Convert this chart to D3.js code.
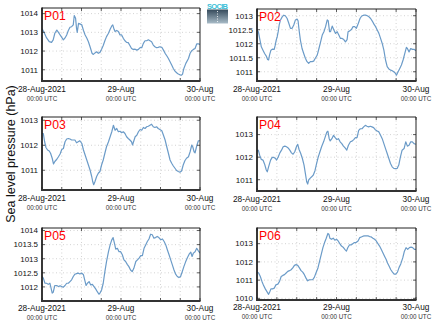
<!DOCTYPE html>
<html><head><meta charset="utf-8">
<script src="https://cdn.jsdelivr.net/npm/d3@7"></script>
<style>body{margin:0;background:#fff} svg{display:block}</style>
</head><body><svg id="c" width="434" height="327"></svg>
<script>
const panelNames = ["P01","P02","P03","P04","P05","P06"];
const dayLabels = ["28-Aug-2021","29-Aug","30-Aug"];
const timeLabel = "00:00 UTC";
const yLabel = "Sea level pressure (hPa)";
const logoText = "SOCIB";
const yTicks = [
  [1011,1012,1013,1014],
  [1011,1011.5,1012,1012.5,1013],
  [1011,1012,1013],
  [1011,1012,1013],
  [1012,1012.5,1013,1013.5,1014],
  [1010,1011,1012,1013]
];
// [hours since 28-Aug-2021 00:00 UTC, pressure hPa]
const p01 = [[0,1013.2],[0.6,1013.0],[1.4,1012.7],[2.2,1012.5],[2.9,1012.46],[3.4,1012.6],[3.9,1012.95],[4.5,1013.12],[5.0,1013.0],[5.5,1012.86],[6.5,1012.6],[7.0,1012.7],[7.5,1012.86],[8.0,1013.1],[8.5,1013.27],[9.0,1013.3],[9.5,1013.4],[9.8,1013.9],[10.2,1013.75],[10.5,1013.2],[10.7,1013.0],[11.1,1013.48],[11.5,1013.45],[12.1,1013.4],[12.6,1013.1],[13.1,1012.86],[13.6,1012.7],[14.1,1012.5],[14.6,1012.23],[15.2,1011.88],[15.6,1011.82],[16.1,1011.9],[16.6,1011.96],[17.1,1011.88],[17.6,1011.93],[18.1,1012.1],[18.6,1012.3],[19.1,1012.55],[19.6,1012.77],[20.2,1012.95],[20.7,1013.16],[21.2,1013.34],[21.5,1013.4],[21.9,1013.16],[22.2,1013.04],[22.7,1013.1],[23.2,1013.04],[23.7,1012.86],[24.2,1012.86],[24.7,1012.68],[25.2,1012.55],[25.7,1012.46],[26.2,1012.45],[26.7,1012.3],[27.2,1012.14],[27.7,1012.09],[28.3,1012.1],[28.8,1012.05],[29.3,1012.09],[29.8,1012.18],[30.3,1012.18],[30.8,1012.41],[31.3,1012.55],[31.8,1012.55],[32.3,1012.6],[32.8,1012.55],[33.3,1012.5],[33.8,1012.32],[34.3,1012.23],[34.8,1012.18],[35.3,1012.2],[35.8,1012.23],[36.4,1012.2],[36.9,1012.05],[37.4,1011.88],[37.9,1011.75],[38.4,1011.6],[38.9,1011.43],[39.4,1011.25],[39.9,1011.07],[40.4,1010.93],[40.9,1010.84],[41.4,1010.77],[41.9,1010.73],[42.4,1010.71],[42.7,1010.77],[43.1,1011.07],[43.7,1011.34],[44.5,1011.6],[45.0,1011.88],[45.5,1012.02],[46.0,1012.09],[46.5,1012.14],[47.0,1012.38],[47.5,1012.38],[48.0,1012.36]];
const p02 = [[0,1012.51],[0.4,1012.43],[0.8,1012.19],[1.3,1011.89],[1.8,1011.77],[2.3,1011.65],[2.8,1011.56],[3.2,1011.44],[3.5,1011.42],[3.8,1011.6],[4.2,1011.77],[4.7,1011.81],[5.2,1011.8],[5.5,1011.95],[5.8,1012.13],[6.1,1012.25],[6.4,1012.43],[6.7,1012.67],[7.1,1012.85],[7.6,1012.96],[8.1,1013.02],[8.6,1012.99],[9.1,1012.9],[9.6,1012.73],[10.1,1012.55],[10.6,1012.55],[11.1,1012.67],[11.6,1012.85],[12.1,1012.88],[12.4,1012.82],[12.7,1012.49],[13.1,1012.13],[13.6,1011.83],[14.1,1011.65],[14.6,1011.48],[15.1,1011.36],[15.6,1011.3],[16.1,1011.36],[16.6,1011.36],[17.1,1011.38],[17.6,1011.48],[18.2,1011.6],[18.7,1011.83],[19.2,1012.07],[19.7,1012.31],[20.2,1012.43],[20.7,1012.61],[21.2,1012.85],[21.5,1012.82],[21.9,1012.43],[22.2,1012.43],[22.7,1012.63],[23.2,1012.49],[23.7,1012.37],[24.2,1012.43],[24.7,1012.31],[25.2,1012.19],[25.7,1012.19],[26.2,1012.15],[26.7,1012.07],[27.2,1012.15],[27.5,1012.43],[28.0,1012.46],[28.5,1012.51],[29.0,1012.61],[29.5,1012.61],[30.0,1012.55],[30.6,1012.73],[31.1,1012.9],[31.6,1012.99],[32.3,1013.02],[32.8,1013.02],[33.3,1013.0],[33.8,1012.96],[34.3,1012.9],[34.8,1012.81],[35.3,1012.7],[35.8,1012.61],[36.3,1012.49],[36.8,1012.37],[37.3,1012.19],[37.8,1012.01],[38.3,1011.77],[38.8,1011.42],[39.3,1011.18],[39.8,1011.1],[40.3,1011.06],[40.8,1011.04],[41.3,1011.0],[41.8,1010.94],[42.1,1010.88],[42.6,1011.0],[43.1,1011.12],[43.6,1011.24],[44.1,1011.42],[44.6,1011.65],[45.1,1011.87],[45.4,1011.83],[45.9,1011.71],[46.4,1011.83],[46.9,1011.8],[47.4,1011.8],[48.0,1011.75]];
const p03 = [[0,1012.47],[0.4,1012.47],[0.8,1012.14],[1.2,1011.91],[1.7,1011.81],[2.2,1011.77],[2.6,1011.68],[3.1,1011.48],[3.5,1011.25],[3.9,1011.35],[4.5,1011.44],[5.0,1011.54],[5.5,1011.65],[6.0,1011.83],[6.5,1011.87],[7.0,1012.14],[7.5,1012.25],[8.0,1012.27],[8.5,1012.25],[9.0,1012.21],[9.5,1012.21],[10.0,1012.21],[10.5,1012.1],[11.0,1012.14],[11.5,1012.18],[12.1,1012.07],[12.6,1011.81],[13.1,1011.61],[13.6,1011.41],[14.1,1011.21],[14.6,1011.01],[15.1,1010.75],[15.4,1010.55],[15.7,1010.42],[16.1,1010.55],[16.6,1010.75],[17.1,1010.88],[17.6,1010.95],[18.1,1011.21],[18.6,1011.41],[19.1,1011.68],[19.6,1011.94],[20.2,1012.14],[20.7,1012.34],[21.2,1012.54],[21.7,1012.8],[22.2,1012.6],[22.7,1012.67],[23.2,1012.54],[23.7,1012.56],[24.2,1012.5],[24.7,1012.54],[25.2,1012.47],[25.7,1012.34],[26.2,1012.27],[26.7,1012.21],[27.2,1012.14],[27.5,1012.01],[28.3,1012.34],[28.8,1012.4],[29.3,1012.54],[29.8,1012.63],[30.3,1012.6],[30.8,1012.71],[31.3,1012.67],[31.8,1012.74],[32.3,1012.76],[32.8,1012.8],[33.3,1012.84],[33.8,1012.74],[34.3,1012.71],[34.8,1012.74],[35.3,1012.67],[35.8,1012.63],[36.4,1012.58],[36.9,1012.4],[37.4,1012.21],[37.9,1011.94],[38.4,1011.68],[38.9,1011.41],[39.4,1011.28],[39.9,1011.17],[40.4,1011.08],[40.9,1010.99],[41.4,1010.95],[41.9,1010.92],[42.4,1010.97],[42.9,1011.21],[43.4,1011.38],[43.9,1011.48],[44.5,1011.54],[45.0,1011.74],[45.5,1012.01],[45.8,1011.94],[46.2,1011.74],[46.5,1011.7],[47.0,1011.97],[47.5,1012.18],[48.0,1012.18]];
const p04 = [[0,1012.28],[0.4,1012.31],[0.8,1012.09],[1.3,1011.9],[1.8,1011.87],[2.3,1011.69],[2.8,1011.43],[3.1,1011.35],[3.5,1011.57],[4.1,1011.87],[4.6,1011.99],[5.1,1011.99],[5.6,1011.94],[5.9,1011.87],[6.4,1012.01],[6.9,1012.19],[7.4,1012.31],[7.9,1012.46],[8.4,1012.49],[8.9,1012.46],[9.4,1012.41],[9.9,1012.31],[10.4,1012.19],[10.9,1012.13],[11.4,1012.24],[11.9,1012.46],[12.3,1012.57],[12.7,1012.34],[13.2,1012.16],[13.7,1011.94],[14.2,1011.65],[14.6,1011.28],[15.0,1010.91],[15.3,1010.81],[15.6,1010.99],[16.0,1011.06],[16.5,1011.13],[17.0,1011.21],[17.5,1011.4],[18.0,1011.72],[18.5,1012.01],[19.0,1012.24],[19.5,1012.46],[20.1,1012.68],[20.6,1012.9],[21.1,1013.12],[21.4,1013.15],[21.8,1012.82],[22.1,1012.72],[22.6,1012.82],[23.1,1012.97],[23.6,1012.87],[24.1,1012.78],[24.6,1012.82],[25.1,1012.68],[25.6,1012.6],[26.1,1012.49],[26.6,1012.41],[27.1,1012.31],[27.6,1012.53],[28.2,1012.68],[28.7,1012.71],[29.2,1012.78],[29.7,1012.87],[30.2,1012.87],[30.7,1013.19],[31.2,1013.26],[31.7,1013.26],[32.2,1013.34],[32.7,1013.41],[33.2,1013.37],[33.7,1013.34],[34.2,1013.37],[34.7,1013.34],[35.2,1013.31],[35.7,1013.22],[36.3,1013.16],[36.8,1013.12],[37.3,1012.97],[37.8,1012.82],[38.3,1012.6],[38.8,1012.38],[39.3,1012.16],[39.8,1011.94],[40.3,1011.72],[40.8,1011.57],[41.3,1011.5],[41.8,1011.49],[42.3,1011.5],[42.8,1011.65],[43.3,1012.01],[43.8,1012.31],[44.4,1012.38],[44.9,1012.68],[45.4,1012.49],[45.9,1012.53],[46.4,1012.68],[46.9,1012.68],[47.4,1012.6],[48.0,1012.57]];
const p05 = [[0,1012.37],[0.4,1012.31],[0.9,1012.13],[1.4,1012.13],[1.9,1012.09],[2.4,1012.13],[2.7,1011.98],[3.1,1011.78],[3.4,1011.81],[3.9,1012.05],[4.5,1012.05],[5.0,1012.01],[5.5,1012.04],[6.0,1012.01],[6.5,1011.99],[7.0,1012.05],[7.5,1012.13],[8.0,1012.13],[8.5,1012.19],[9.0,1012.25],[9.5,1012.37],[10.0,1012.45],[10.5,1012.47],[11.0,1012.49],[11.5,1012.46],[12.1,1012.49],[12.6,1012.43],[13.1,1012.19],[13.4,1012.05],[13.8,1012.13],[14.3,1012.19],[14.8,1012.07],[15.3,1012.09],[15.8,1012.01],[16.3,1011.93],[16.8,1011.83],[17.3,1011.74],[17.6,1011.78],[18.1,1011.89],[18.6,1012.13],[19.1,1012.54],[19.6,1012.9],[20.2,1013.25],[20.7,1013.49],[21.2,1013.67],[21.6,1013.75],[22.0,1013.55],[22.4,1013.34],[22.9,1013.37],[23.4,1013.25],[23.9,1013.25],[24.4,1013.14],[24.9,1012.96],[25.4,1012.9],[25.9,1012.8],[26.4,1012.72],[26.9,1012.6],[27.4,1012.54],[27.9,1012.66],[28.5,1012.9],[29.0,1012.96],[29.5,1013.02],[30.0,1013.11],[30.5,1013.11],[31.0,1013.37],[31.5,1013.49],[32.0,1013.61],[32.5,1013.7],[33.0,1013.87],[33.5,1013.85],[34.0,1013.73],[34.5,1013.75],[35.0,1013.79],[35.5,1013.75],[36.1,1013.67],[36.6,1013.7],[37.1,1013.61],[37.6,1013.49],[38.1,1013.31],[38.6,1013.14],[39.1,1012.96],[39.6,1012.78],[40.1,1012.6],[40.6,1012.45],[41.1,1012.37],[41.6,1012.33],[42.1,1012.37],[42.6,1012.54],[43.1,1012.72],[43.6,1012.88],[44.2,1013.04],[44.7,1013.16],[45.2,1013.23],[45.6,1013.08],[46.0,1013.2],[46.5,1013.25],[47.0,1013.37],[47.5,1013.28],[48.0,1013.2]];
const p06 = [[0,1011.44],[0.5,1011.39],[1.0,1011.2],[1.5,1010.93],[2.0,1010.7],[2.5,1010.52],[3.0,1010.37],[3.5,1010.22],[3.8,1010.33],[4.2,1010.52],[4.7,1010.52],[5.2,1010.56],[5.7,1010.74],[6.3,1010.78],[6.8,1010.93],[7.3,1011.2],[7.8,1011.26],[8.3,1011.3],[8.8,1011.39],[9.3,1011.48],[9.8,1011.52],[10.3,1011.57],[10.8,1011.67],[11.3,1011.81],[11.8,1011.85],[12.3,1011.81],[12.8,1011.67],[13.3,1011.52],[13.8,1011.44],[14.3,1011.3],[14.8,1011.11],[15.3,1010.96],[15.8,1011.02],[16.3,1011.02],[16.8,1011.02],[17.3,1011.15],[17.8,1011.39],[18.4,1011.67],[18.9,1012.04],[19.4,1012.41],[19.9,1012.78],[20.4,1013.06],[20.9,1013.3],[21.4,1013.56],[21.7,1013.52],[22.0,1013.3],[22.5,1013.24],[23.0,1013.3],[23.5,1013.19],[24.0,1013.24],[24.5,1013.15],[25.0,1013.0],[25.5,1012.87],[26.0,1012.81],[26.5,1012.69],[27.0,1012.59],[27.4,1012.78],[27.9,1012.93],[28.4,1012.93],[28.9,1013.0],[29.4,1013.06],[29.9,1013.06],[30.5,1013.15],[31.0,1013.33],[31.5,1013.37],[32.0,1013.41],[32.5,1013.43],[33.0,1013.43],[33.5,1013.43],[34.0,1013.39],[34.5,1013.37],[35.0,1013.3],[35.5,1013.24],[36.0,1013.15],[36.5,1013.0],[37.0,1012.87],[37.5,1012.69],[38.0,1012.5],[38.5,1012.31],[39.0,1012.13],[39.4,1011.94],[39.9,1011.76],[40.4,1011.57],[40.9,1011.44],[41.4,1011.33],[41.9,1011.33],[42.4,1011.44],[42.9,1011.7],[43.4,1011.89],[44.0,1012.22],[44.5,1012.59],[45.0,1012.78],[45.5,1012.69],[46.0,1012.78],[46.5,1012.81],[47.0,1012.78],[47.5,1012.69],[48.0,1012.69]];
const series = [p01,p02,p03,p04,p05,p06];

// layout (positions only)
const layout = [
  {x0:42, x1:200, y0:8,   y1:81,  dom:[1010.4,1014.3]},
  {x0:257,x1:416, y0:9,   y1:81,  dom:[1010.67,1013.24]},
  {x0:42, x1:200, y0:117, y1:190, dom:[1010.21,1013.13]},
  {x0:257,x1:416, y0:117, y1:191, dom:[1010.5,1013.78]},
  {x0:42, x1:200, y0:228, y1:301, dom:[1011.5,1014.09]},
  {x0:257,x1:416, y0:228, y1:300, dom:[1009.91,1013.86]}
];

const FONT = "'Liberation Sans', Arial, Helvetica, sans-serif";
const svg = d3.select("#c");
const t0 = Date.UTC(2021,7,28);
const toDate = h => new Date(t0 + h*3600e3);
const dayDates = [0,24,48].map(toDate);
const defs = svg.append("defs");

layout.forEach((L,i) => {
  const x = d3.scaleUtc().domain([toDate(0),toDate(48)]).range([L.x0,L.x1]);
  const y = d3.scaleLinear().domain(L.dom).range([L.y1,L.y0]);
  const g = svg.append("g");
  defs.append("clipPath").attr("id","clip"+i).append("rect")
    .attr("x",L.x0).attr("y",L.y0).attr("width",L.x1-L.x0).attr("height",L.y1-L.y0);

  // grid
  const gridTimes = d3.utcHour.every(6).range(toDate(0), toDate(48.01));
  g.selectAll(".vg").data(gridTimes.filter(d=>+d>t0 && +d<+toDate(48))).enter().append("line")
    .attr("x1",d=>x(d)).attr("x2",d=>x(d)).attr("y1",L.y0).attr("y2",L.y1)
    .attr("stroke","#c8c8c8").attr("stroke-width",0.8).attr("stroke-dasharray","1,2.5");
  g.selectAll(".hg").data(yTicks[i]).enter().append("line")
    .attr("x1",L.x0).attr("x2",L.x1).attr("y1",d=>y(d)).attr("y2",d=>y(d))
    .attr("stroke","#c8c8c8").attr("stroke-width",0.8).attr("stroke-dasharray","1,2.5");

  // line
  g.append("path").datum(series[i])
    .attr("clip-path","url(#clip"+i+")")
    .attr("fill","none").attr("stroke","#6b9bc8").attr("stroke-width",1.2)
    .attr("stroke-linejoin","round")
    .attr("d", d3.line().x(d=>x(toDate(d[0]))).y(d=>y(d[1])));

  // ticks inward
  gridTimes.forEach(d=>{
    g.append("line").attr("x1",x(d)).attr("x2",x(d)).attr("y1",L.y1).attr("y2",L.y1-3).attr("stroke","#333").attr("stroke-width",0.8);
    g.append("line").attr("x1",x(d)).attr("x2",x(d)).attr("y1",L.y0).attr("y2",L.y0+3).attr("stroke","#333").attr("stroke-width",0.8);
  });
  yTicks[i].forEach(v=>{
    g.append("line").attr("x1",L.x0).attr("x2",L.x0+3).attr("y1",y(v)).attr("y2",y(v)).attr("stroke","#333").attr("stroke-width",0.8);
    g.append("line").attr("x1",L.x1).attr("x2",L.x1-3).attr("y1",y(v)).attr("y2",y(v)).attr("stroke","#333").attr("stroke-width",0.8);
  });

  // frame
  g.append("line").attr("x1",L.x0).attr("x2",L.x1).attr("y1",L.y0).attr("y2",L.y0).attr("stroke","#222").attr("stroke-width",1);
  g.append("line").attr("x1",L.x1).attr("x2",L.x1).attr("y1",L.y0).attr("y2",L.y1).attr("stroke","#222").attr("stroke-width",1);
  g.append("line").attr("x1",L.x0).attr("x2",L.x0).attr("y1",L.y0-0.5).attr("y2",L.y1+1).attr("stroke","#222").attr("stroke-width",1.8);
  g.append("line").attr("x1",L.x0-0.9).attr("x2",L.x1+0.5).attr("y1",L.y1).attr("y2",L.y1).attr("stroke","#333").attr("stroke-width",1.8);

  // y tick labels
  g.selectAll(".yl").data(yTicks[i]).enter().append("text")
    .attr("x",L.x0-4).attr("y",d=>y(d)).attr("dy","0.35em")
    .attr("text-anchor","end").attr("font-family",FONT).attr("font-size",8).attr("fill","#111")
    .text(d=>String(d));

  // x labels
  const off1 = i>=4 ? 10 : 11.3, off2 = i>=4 ? 18.8 : 20;
  dayDates.forEach((d,k)=>{
    g.append("text").attr("x",x(d)).attr("y",L.y1+off1).attr("text-anchor","middle")
      .attr("font-family",FONT).attr("font-size",8.3).attr("fill","#111").text(dayLabels[k]);
    g.append("text").attr("x",x(d)).attr("y",L.y1+off2).attr("text-anchor","middle")
      .attr("font-family",FONT).attr("font-size",6.3).attr("fill","#333").text(timeLabel);
  });

  // panel name
  g.append("text").attr("x",L.x0+2).attr("y",L.y0+12.2)
    .attr("font-family",FONT).attr("font-size",12.2).attr("fill","#f00").text(panelNames[i]);
});

// y axis label
svg.append("text").attr("transform","translate(14.5,154) rotate(-90)")
  .attr("text-anchor","middle").attr("font-family",FONT).attr("font-size",12.5).attr("fill","#111")
  .text(yLabel);

// logo
const grad = defs.append("linearGradient").attr("id","lg").attr("x1",0).attr("x2",0).attr("y1",0).attr("y2",1);
grad.append("stop").attr("offset","0%").attr("stop-color","#34495a");
grad.append("stop").attr("offset","100%").attr("stop-color","#a9bcc8");
svg.append("rect").attr("x",207).attr("y",9.5).attr("width",21).attr("height",14).attr("fill","url(#lg)");
svg.append("line").attr("x1",217.5).attr("x2",217.5).attr("y1",11).attr("y2",22).attr("stroke","#fff").attr("stroke-width",0.8).attr("stroke-dasharray","1,1.5");
svg.append("text").attr("x",217.5).attr("y",8.5).attr("text-anchor","middle").attr("font-family",FONT)
  .attr("font-size",7.5).attr("font-weight","bold").attr("fill","#3bbfd8").attr("textLength",21).text(logoText);
</script></body></html>
